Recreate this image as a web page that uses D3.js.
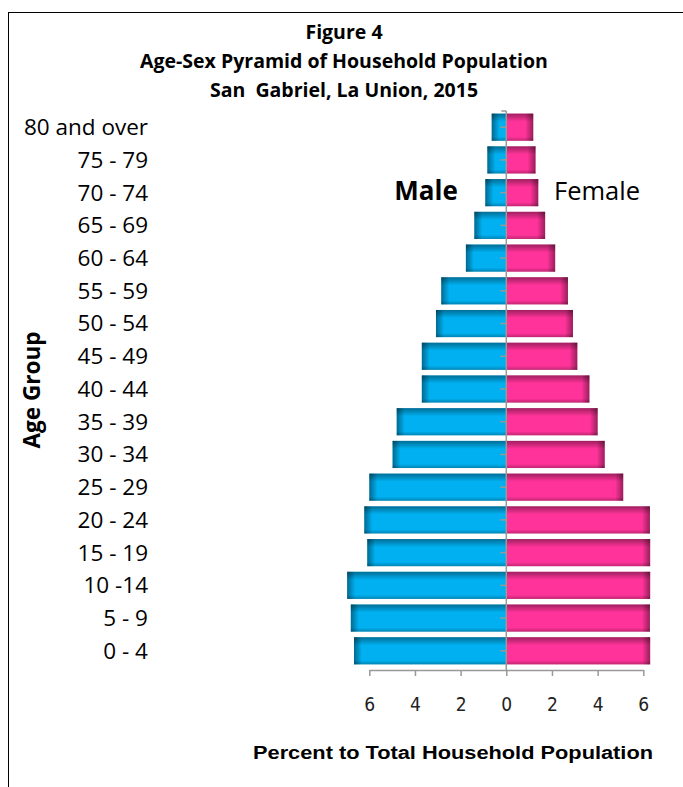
<!DOCTYPE html>
<html>
<head>
  <meta charset="utf-8">
  <title>Age-Sex Pyramid</title>
  <script src="https://cdn.jsdelivr.net/npm/d3@7"></script>
  <style>
    body { margin: 0; background: #fff; }
    svg { display: block; }
  </style>
</head>
<body>
  <div id="chartArea"></div>
  <script>
    // values, top row first
    const ageGroups = ['80 and over', '75 - 79', '70 - 74', '65 - 69', '60 - 64', '55 - 59',
      '50 - 54', '45 - 49', '40 - 44', '35 - 39', '30 - 34', '25 - 29', '20 - 24',
      '15 - 19', '10 -14', '5 - 9', '0 - 4'];
    const male = [0.64, 0.83, 0.92, 1.4, 1.77, 2.85, 3.08, 3.7, 3.7, 4.8, 4.98, 6.0, 6.22, 6.09, 6.97, 6.81, 6.67];
    const female = [1.18, 1.28, 1.4, 1.7, 2.14, 2.7, 2.92, 3.11, 3.64, 4.0, 4.31, 5.12, 6.29, 6.3, 6.3, 6.29, 6.3];
    const xTicks = [-6, -4, -2, 0, 2, 4, 6];
    const titleLines = ['Figure 4', 'Age-Sex Pyramid of Household Population', 'San  Gabriel, La Union, 2015'];

    let w = 683, h = 787;

    let svg = d3.select('#chartArea').append('svg')
      .attr('width', w)
      .attr('height', h);

    let defs = svg.append('defs');
    function grad(id, x2, y2, stops) {
      let g = defs.append('linearGradient').attr('id', id)
        .attr('x1', 0).attr('y1', 0).attr('x2', x2).attr('y2', y2);
      stops.forEach(s => g.append('stop').attr('offset', s[0]).attr('stop-color', s[1]).attr('stop-opacity', s[2]));
    }
    grad('topShade', 0, 1, [[0, '#000', 0.38], [1, '#000', 0]]);
    grad('botShade', 0, 1, [[0, '#000', 0], [1, '#000', 0.25]]);
    grad('leftShade', 1, 0, [[0, '#000', 0.4], [1, '#000', 0]]);
    grad('rightShade', 1, 0, [[0, '#000', 0], [1, '#000', 0.4]]);

    // frame
    svg.append('rect')
      .attr('x', 8.5).attr('y', 12.5)
      .attr('width', 700).attr('height', 800)
      .attr('fill', 'none').attr('stroke', '#000').attr('stroke-width', 1);

    // title
    svg.append('g').selectAll('text')
      .data(titleLines)
      .enter().append('text')
      .attr('x', 344)
      .attr('y', (d, i) => 39 + i * 29)
      .attr('text-anchor', 'middle')
      .style('white-space', 'pre')
      .style('font-family', 'Open Sans, sans-serif')
      .style('font-weight', 'bold')
      .style('font-size', '19.5px')
      .text(d => d);

    let xScale = d3.scaleLinear()
      .domain([-6, 6])
      .range([369.3, 643.3]);

    let yScale = d3.scaleBand()
      .domain(ageGroups)
      .range([111, 667])
      .paddingInner(0.17)
      .paddingOuter(0.08);

    let bh = yScale.bandwidth();
    let x0 = xScale(0);

    function drawBars(vals, sign, color, outerShade) {
      let g = svg.append('g');
      let rows = g.selectAll('g')
        .data(vals.map((v, i) => ({ age: ageGroups[i], v: v })))
        .enter().append('g');
      let bx = d => sign < 0 ? xScale(-d.v) : x0;
      let bw = d => Math.abs(xScale(sign * d.v) - x0);
      rows.append('rect')
        .attr('x', bx).attr('y', d => yScale(d.age))
        .attr('width', bw).attr('height', bh)
        .attr('fill', color);
      rows.append('rect')
        .attr('x', bx).attr('y', d => yScale(d.age))
        .attr('width', bw).attr('height', 8)
        .attr('fill', 'url(#topShade)');
      rows.append('rect')
        .attr('x', bx).attr('y', d => yScale(d.age) + bh - 4)
        .attr('width', bw).attr('height', 4)
        .attr('fill', 'url(#botShade)');
      rows.append('rect')
        .attr('x', d => sign < 0 ? bx(d) : bx(d) + bw(d) - 8)
        .attr('y', d => yScale(d.age))
        .attr('width', 8).attr('height', bh)
        .attr('fill', outerShade);
    }
    drawBars(male, -1, '#00B0F0', 'url(#leftShade)');
    drawBars(female, 1, '#FF3399', 'url(#rightShade)');

    // centre axis
    svg.append('line')
      .attr('x1', x0).attr('x2', x0)
      .attr('y1', 111).attr('y2', 670)
      .attr('stroke', '#999').attr('stroke-width', 1.5);
    svg.append('line')
      .attr('x1', x0 - 5).attr('x2', x0)
      .attr('y1', 111).attr('y2', 111)
      .attr('stroke', '#999').attr('stroke-width', 1.5);
    svg.append('g').selectAll('line')
      .data(ageGroups)
      .enter().append('line')
      .attr('x1', x0 - 6).attr('x2', x0)
      .attr('y1', d => yScale(d) + bh / 2)
      .attr('y2', d => yScale(d) + bh / 2)
      .attr('stroke', '#999').attr('stroke-width', 1.5);

    // age labels
    svg.append('g').selectAll('text')
      .data(ageGroups)
      .enter().append('text')
      .attr('x', 148)
      .attr('y', d => yScale(d) + bh / 2)
      .attr('dy', '0.35em')
      .attr('text-anchor', 'end')
      .style('font-family', 'Open Sans, sans-serif')
      .style('font-size', '22.5px')
      .text(d => d);

    // bottom axis
    let xAxis = svg.append('g')
      .attr('transform', 'translate(0, 670)')
      .call(d3.axisBottom(xScale)
        .tickValues(xTicks)
        .tickFormat(d => Math.abs(d))
        .tickSizeInner(6)
        .tickSizeOuter(0)
        .tickPadding(22));
    xAxis.select('.domain').attr('stroke', '#999').attr('stroke-width', 1.5);
    xAxis.selectAll('.tick line').attr('stroke', '#999').attr('stroke-width', 1.5);
    xAxis.selectAll('.tick text')
      .attr('fill', '#222')
      .style('font-family', 'Liberation Sans Narrow, DejaVu Sans Condensed, sans-serif')
      .style('font-size', '19px');

    // labels
    svg.append('text')
      .attr('x', 426).attr('y', 200)
      .attr('text-anchor', 'middle')
      .style('font-family', 'Open Sans, sans-serif')
      .style('font-weight', 'bold')
      .style('font-size', '26px')
      .text('Male');
    svg.append('text')
      .attr('x', 597).attr('y', 200)
      .attr('text-anchor', 'middle')
      .style('font-family', 'Open Sans, sans-serif')
      .style('font-size', '25.5px')
      .text('Female');

    svg.append('text')
      .attr('transform', 'translate(40, 390) rotate(-90)')
      .attr('text-anchor', 'middle')
      .style('font-family', 'Open Sans, sans-serif')
      .style('font-weight', 'bold')
      .style('font-size', '22.5px')
      .text('Age Group');

    svg.append('text')
      .attr('x', 453).attr('y', 759)
      .attr('text-anchor', 'middle')
      .attr('textLength', 400)
      .attr('lengthAdjust', 'spacingAndGlyphs')
      .style('font-family', 'Liberation Sans, Arial, sans-serif')
      .style('font-weight', 'bold')
      .style('font-size', '18px')
      .text('Percent to Total Household Population');
  </script>
</body>
</html>
